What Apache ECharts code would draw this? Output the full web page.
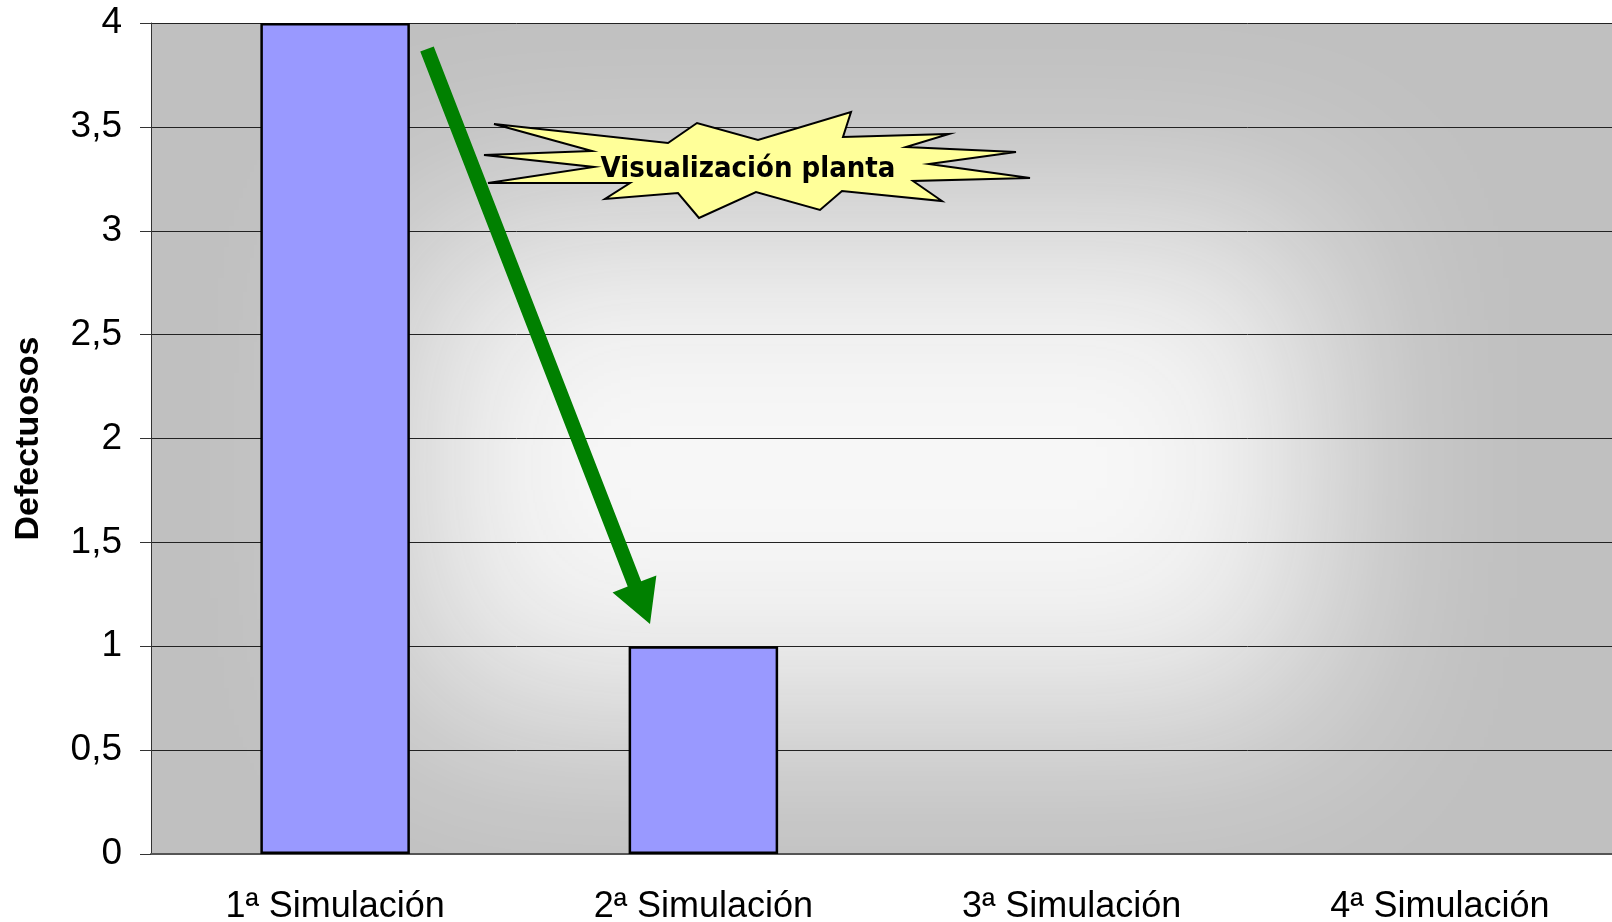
<!DOCTYPE html>
<html>
<head>
<meta charset="utf-8">
<title>Defectuosos</title>
<script src="https://cdn.jsdelivr.net/npm/echarts@6/dist/echarts.min.js"></script>
<style>
  html, body { margin: 0; padding: 0; background: #fff; }
  #main { width: 1612px; height: 922px; }
</style>
</head>
<body>
<div id="main"></div>
<script>
// datos
var categories = ['1ª Simulación', '2ª Simulación', '3ª Simulación', '4ª Simulación'];
var defectuosos = [4, 1, null, null];
var yMin = 0, yMax = 4, yStep = 0.5;
var nota = 'Visualización planta';

var chart = echarts.init(document.getElementById('main'));

// ---- fondo del area de trazado (degradado desde el centro) ----
var plot = { x: 151, y: 23, w: 1473, h: 831 };
var brillo = { x: 411, y: 226, w: 905, h: 483 };   // zona clara (contorno del 50%)

// ---- flecha verde ----
function flecha(x0, y0, x1, y1, ancho, largoPunta, anchoPunta) {
    var dx = x1 - x0, dy = y1 - y0;
    var len = Math.sqrt(dx * dx + dy * dy);
    var ux = dx / len, uy = dy / len;
    var px = -uy, py = ux;
    var bx = x1 - ux * largoPunta, by = y1 - uy * largoPunta;
    var w = ancho / 2, h = anchoPunta / 2;
    return [
        [x0 + px * w, y0 + py * w],
        [bx + px * w, by + py * w],
        [bx + px * h, by + py * h],
        [x1, y1],
        [bx - px * h, by - py * h],
        [bx - px * w, by - py * w],
        [x0 - px * w, y0 - py * w]
    ];
}

// ---- estrella (explosion) ----
var estrella = [
    [494, 124], [668, 143], [697, 123], [758, 140], [851, 112], [843, 137],
    [949, 134], [906, 147], [1016, 152], [929, 164], [1030, 178], [913, 181],
    [942, 201], [842, 191], [820, 210], [756, 192], [699, 218], [678, 193],
    [605, 199], [630, 183], [488, 183], [594, 167], [484, 155], [592, 151]
];

var option = {
    animation: false,
    grid: { left: 151, top: 23, right: -12, bottom: 68, outerBoundsMode: 'none', containLabel: false },
    xAxis: {
        type: 'category',
        data: categories,
        axisLine: { lineStyle: { color: '#555', width: 2 } },
        axisTick: { length: 11, lineStyle: { color: '#222', width: 1 } },
        axisLabel: {
            margin: 35,
            fontFamily: 'Liberation Sans, Arial',
            fontSize: 36,
            color: '#000'
        }
    },
    yAxis: {
        type: 'value',
        min: yMin, max: yMax, interval: yStep,
        name: 'Defectuosos',
        nameLocation: 'middle',
        nameGap: 105,
        nameTextStyle: {
            fontFamily: 'Liberation Sans, Arial',
            fontWeight: 'bold',
            fontSize: 34,
            color: '#000'
        },
        axisLine: { show: true, lineStyle: { color: '#333', width: 1 } },
        axisTick: { show: true, length: 11, lineStyle: { color: '#333' } },
        axisLabel: {
            margin: 29,
            fontFamily: 'Liberation Sans, Arial',
            fontSize: 37,
            color: '#000',
            formatter: function (v) { return String(v).replace('.', ','); }
        },
        splitLine: { show: true, lineStyle: { color: '#222', width: 1 } }
    },
    series: [{
        type: 'bar',
        data: defectuosos,
        barWidth: '40.6%',
        itemStyle: { color: '#9999ff', borderColor: '#000', borderWidth: 2.5 }
    }],
    graphic: [
        {
            type: 'rect', z: -3, silent: true,
            shape: { x: plot.x, y: plot.y, width: plot.w, height: plot.h },
            style: { fill: '#c0c0c0' }
        },
        {
            // rectangulo fuera de pantalla, solo se ve su sombra difuminada
            type: 'rect', z: -2, silent: true,
            shape: { x: brillo.x - 10000, y: brillo.y, width: brillo.w, height: brillo.h },
            style: {
                fill: '#f7f7f7',
                shadowColor: '#f7f7f7',
                shadowBlur: 200,
                shadowOffsetX: 10000
            }
        },
        {
            type: 'polygon', z: 10, silent: true,
            shape: { points: flecha(427, 49, 650, 624, 14.5, 43, 47) },
            style: { fill: '#008000' }
        },
        {
            type: 'polygon', z: 10, silent: true,
            shape: { points: estrella },
            style: { fill: '#ffff99', stroke: '#000', lineWidth: 2 }
        },
        {
            type: 'text', z: 11, silent: true,
            x: 748, y: 169,
            style: {
                text: nota,
                fontFamily: 'DejaVu Sans Condensed, DejaVu Sans',
                fontWeight: 'bold',
                fontSize: 29,
                fill: '#000',
                align: 'center',
                verticalAlign: 'middle'
            }
        }
    ]
};

chart.setOption(option);
</script>
</body>
</html>
